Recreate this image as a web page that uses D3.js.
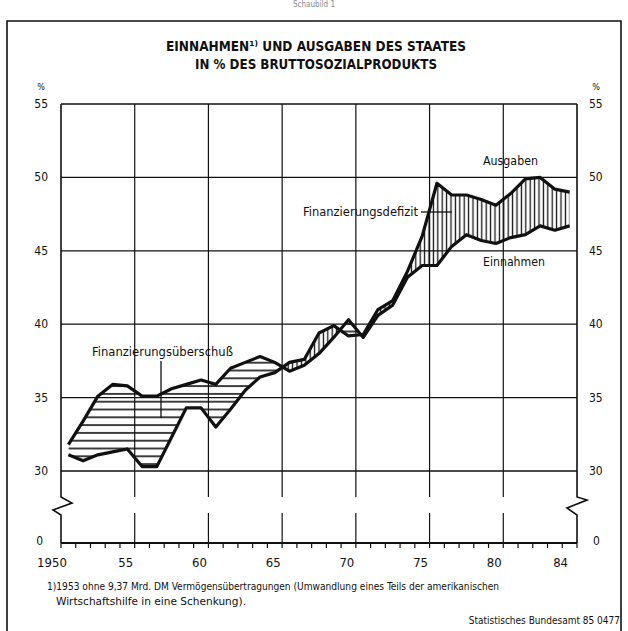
<!DOCTYPE html>
<html>
<head>
<meta charset="utf-8">
<script src="https://cdn.jsdelivr.net/npm/d3@7"></script>
<style>
  body { margin: 0; background: #fff; }
  svg { display: block; }
  text { font-family: 'DejaVu Sans Condensed', 'Liberation Sans Narrow', 'Roboto Condensed', sans-serif; fill: #111; }
</style>
</head>
<body>
<div id="draw"></div>
<script>
// Anteile am Bruttosozialprodukt in %, Jahreswerte 1950-1984
const years = d3.range(1950, 1985)
const einnahmen = [31.8, 33.4, 35.1, 35.9, 35.8, 35.1, 35.1, 35.6, 35.9, 36.2,
  35.9, 37.0, 37.4, 37.8, 37.4, 36.8, 37.2, 38.0, 39.1, 40.3,
  39.1, 40.6, 41.3, 43.2, 44.0, 44.0, 45.3, 46.1, 45.7, 45.5,
  45.9, 46.1, 46.7, 46.4, 46.7]
const ausgaben = [31.1, 30.7, 31.1, 31.3, 31.5, 30.3, 30.3, 32.3, 34.3, 34.3,
  33.0, 34.2, 35.5, 36.4, 36.7, 37.4, 37.6, 39.4, 39.9, 39.2,
  39.3, 41.0, 41.6, 43.6, 46.0, 49.6, 48.8, 48.8, 48.5, 48.1,
  48.9, 49.9, 50.0, 49.2, 49.0]
const yTicks = [30, 35, 40, 45, 50, 55]
const xGrid = [1955, 1960, 1965, 1970, 1975, 1980]
const xLabels = [[1950, '1950'], [1955, '55'], [1960, '60'], [1965, '65'], [1970, '70'], [1975, '75'], [1980, '80'], [1984.5, '84']]

const W = 628, H = 631
const pLeft = 61, pRight = 577, pTop = 104, pBottom = 471
const breakTop = 497, breakBottom = 513, zeroY = 543

const data = years.map(function (yr, i) {
  return { year: yr + 0.5, e: einnahmen[i], a: ausgaben[i] }
})

const x = d3.scaleLinear().domain([1950, 1985]).range([pLeft, pRight])
const y = d3.scaleLinear().domain([30, 55]).range([pBottom, pTop])

const svg = d3.select('#draw').append('svg')
  .attr('width', W).attr('height', H)

const defs = svg.append('defs')

// Schraffuren
const hPat = defs.append('pattern').attr('id', 'hatchH')
  .attr('patternUnits', 'userSpaceOnUse').attr('width', 20).attr('height', 7.8)
hPat.append('line').attr('x1', 0).attr('x2', 20).attr('y1', 3.9).attr('y2', 3.9)
  .attr('stroke', '#111').attr('stroke-width', 1.6)
const vPat = defs.append('pattern').attr('id', 'hatchV')
  .attr('patternUnits', 'userSpaceOnUse').attr('width', 4.4).attr('height', 20)
vPat.append('line').attr('y1', 0).attr('y2', 20).attr('x1', 2.2).attr('x2', 2.2)
  .attr('stroke', '#111').attr('stroke-width', 1.3)

// Clip-Bereiche oberhalb / unterhalb der Ausgabenlinie
defs.append('clipPath').attr('id', 'clipAbove').append('path')
  .datum(data)
  .attr('d', d3.area().x(function (d) { return x(d.year) }).y0(0).y1(function (d) { return y(d.a) }))
defs.append('clipPath').attr('id', 'clipBelow').append('path')
  .datum(data)
  .attr('d', d3.area().x(function (d) { return x(d.year) }).y0(H).y1(function (d) { return y(d.a) }))

// Outer frame
svg.append('path')
  .attr('d', 'M7,' + H + 'V21H621V' + H)
  .attr('fill', 'none').attr('stroke', '#111').attr('stroke-width', 1.6)
svg.append('text').attr('x', 314).attr('y', 7).attr('text-anchor', 'middle')
  .style('font-size', '8px').style('fill', '#888').text('Schaubild 1')

// Title
svg.append('text').attr('x', 316).attr('y', 51).attr('text-anchor', 'middle')
  .style('font-size', '14px').style('font-weight', 'bold')
  .attr('textLength', 300).attr('lengthAdjust', 'spacingAndGlyphs')
  .text('EINNAHMEN¹⁾ UND AUSGABEN DES STAATES')
svg.append('text').attr('x', 316).attr('y', 69).attr('text-anchor', 'middle')
  .style('font-size', '14px').style('font-weight', 'bold')
  .attr('textLength', 242).attr('lengthAdjust', 'spacingAndGlyphs')
  .text('IN % DES BRUTTOSOZIALPRODUKTS')

// Grid
const grid = svg.append('g').attr('stroke', '#111').attr('fill', 'none')
grid.selectAll('.hgrid').data(yTicks).enter().append('line')
  .attr('x1', pLeft).attr('x2', pRight)
  .attr('y1', function (d) { return y(d) }).attr('y2', function (d) { return y(d) })
  .attr('stroke-width', function (d) { return d === 55 ? 1.6 : 1.3 })
grid.selectAll('.vgrid1').data(xGrid).enter().append('line')
  .attr('x1', function (d) { return x(d) }).attr('x2', function (d) { return x(d) })
  .attr('y1', pTop).attr('y2', breakTop).attr('stroke-width', 1.2)
grid.selectAll('.vgrid2').data(xGrid).enter().append('line')
  .attr('x1', function (d) { return x(d) }).attr('x2', function (d) { return x(d) })
  .attr('y1', breakBottom).attr('y2', zeroY).attr('stroke-width', 1.2)

// Side axes with break zigzag
const xl = x(1950), xr = x(1985)
grid.append('path').attr('stroke-width', 1.6)
  .attr('d', 'M' + xl + ',' + pTop + 'V' + breakTop + 'L' + (xl + 11) + ',' + (breakTop + 6) +
    'L' + (xl - 8) + ',' + (breakTop + 13) + 'L' + xl + ',' + (breakBottom + 2) + 'V' + zeroY)
grid.append('path').attr('stroke-width', 1.6)
  .attr('d', 'M' + xr + ',' + pTop + 'V' + breakTop + 'L' + (xr + 10) + ',' + (breakTop + 3) +
    'L' + (xr - 10) + ',' + (breakTop + 11) + 'L' + xr + ',' + (breakBottom + 2) + 'V' + zeroY)

// Zero line and year ticks
grid.append('line').attr('x1', xl).attr('x2', xr).attr('y1', zeroY).attr('y2', zeroY)
  .attr('stroke-width', 2)
grid.selectAll('.tick').data(d3.range(1950, 1986)).enter().append('line')
  .attr('x1', function (d) { return x(d) }).attr('x2', function (d) { return x(d) })
  .attr('y1', zeroY).attr('y2', zeroY + 5).attr('stroke-width', 1.2)

// Y labels
const lab = svg.append('g').style('font-size', '12px')
lab.selectAll('.yl').data(yTicks).enter().append('text')
  .attr('x', 48).attr('y', function (d) { return y(d) + 4 })
  .attr('text-anchor', 'end').text(function (d) { return d })
lab.selectAll('.yr').data(yTicks).enter().append('text')
  .attr('x', 589).attr('y', function (d) { return y(d) + 4 })
  .text(function (d) { return d })
lab.append('text').attr('x', 43).attr('y', zeroY + 2).attr('text-anchor', 'end').text('0')
lab.append('text').attr('x', 593).attr('y', zeroY + 2).text('0')
lab.append('text').attr('x', 41).attr('y', 90).attr('text-anchor', 'middle').style('font-size', '9px').text('%')
lab.append('text').attr('x', 596).attr('y', 90).attr('text-anchor', 'middle').style('font-size', '9px').text('%')
lab.selectAll('.xl').data(xLabels).enter().append('text')
  .attr('x', function (d) { return x(d[0]) - 9 }).attr('y', zeroY + 24)
  .attr('text-anchor', 'middle').style('font-size', '13px').text(function (d) { return d[1] })

// Hatched areas
const lineX = function (d) { return x(d.year) }
svg.append('path').datum(data)
  .attr('clip-path', 'url(#clipAbove)')
  .attr('fill', 'url(#hatchH)')
  .attr('d', d3.area().x(lineX).y0(H).y1(function (d) { return y(d.e) }))
svg.append('path').datum(data)
  .attr('clip-path', 'url(#clipBelow)')
  .attr('fill', 'url(#hatchV)')
  .attr('d', d3.area().x(lineX).y0(0).y1(function (d) { return y(d.e) }))

// Lines
const lineE = d3.line().x(lineX).y(function (d) { return y(d.e) })
const lineA = d3.line().x(lineX).y(function (d) { return y(d.a) })
svg.append('path').datum(data).attr('d', lineA)
  .attr('fill', 'none').attr('stroke', '#111').attr('stroke-width', 3.2).attr('stroke-linejoin', 'round')
svg.append('path').datum(data).attr('d', lineE)
  .attr('fill', 'none').attr('stroke', '#111').attr('stroke-width', 3.2).attr('stroke-linejoin', 'round')

// Annotations
const ann = svg.append('g').style('font-size', '12px')
ann.append('text').attr('x', 92).attr('y', 356).text('Finanzierungsüberschuß')
  .attr('textLength', 141).attr('lengthAdjust', 'spacingAndGlyphs')
svg.append('line').attr('x1', 161).attr('x2', 161).attr('y1', 361).attr('y2', 418)
  .attr('stroke', '#111').attr('stroke-width', 1.3)
ann.append('text').attr('x', 303).attr('y', 216).text('Finanzierungsdefizit')
  .attr('textLength', 115).attr('lengthAdjust', 'spacingAndGlyphs')
svg.append('line').attr('x1', 421).attr('x2', 452).attr('y1', 212).attr('y2', 212)
  .attr('stroke', '#111').attr('stroke-width', 1.3)
ann.append('text').attr('x', 483).attr('y', 165).text('Ausgaben')
  .attr('textLength', 55).attr('lengthAdjust', 'spacingAndGlyphs')
ann.append('text').attr('x', 483).attr('y', 266).text('Einnahmen')
  .attr('textLength', 62).attr('lengthAdjust', 'spacingAndGlyphs')

// Footnote and source
const foot = svg.append('g').style('font-size', '11px')
foot.append('text').attr('x', 47).attr('y', 590)
  .attr('textLength', 452).attr('lengthAdjust', 'spacingAndGlyphs')
  .text('1)1953 ohne 9,37 Mrd. DM Vermögensübertragungen (Umwandlung eines Teils der amerikanischen')
foot.append('text').attr('x', 56).attr('y', 605)
  .attr('textLength', 190).attr('lengthAdjust', 'spacingAndGlyphs')
  .text('Wirtschaftshilfe in eine Schenkung).')
foot.append('text').attr('x', 620).attr('y', 624).attr('text-anchor', 'end')
  .style('font-size', '10px')
  .text('Statistisches Bundesamt 85 0477')
</script>
</body>
</html>
